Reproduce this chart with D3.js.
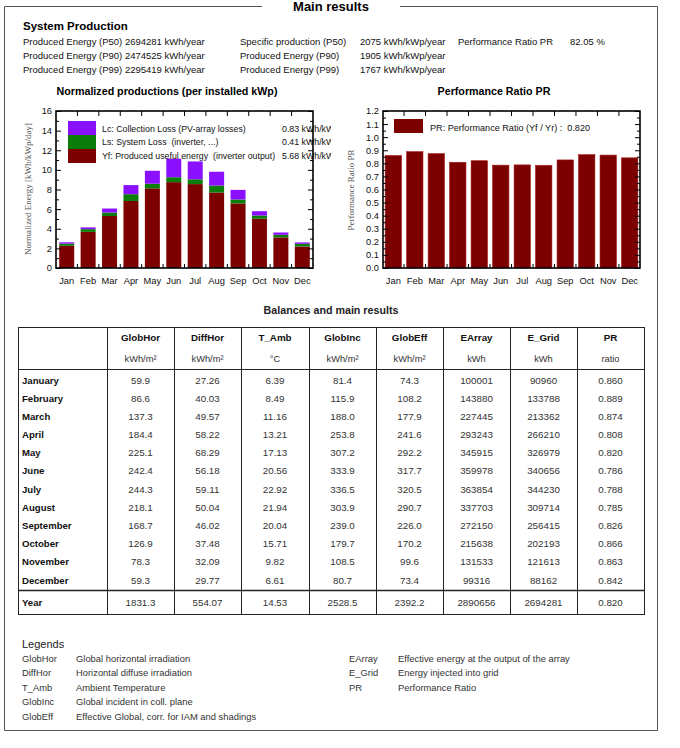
<!DOCTYPE html>
<html>
<head>
<meta charset="utf-8">
<script src="https://cdn.jsdelivr.net/npm/d3@7"></script>
<style>
  body { margin: 0; background: #fff; }
  svg { font-family: "Liberation Sans", Arial, sans-serif; }
  .val { font-size: 9.8px; fill: #333; }
  .hdr { font-size: 9.8px; font-weight: bold; fill: #111; }
  .unit { font-size: 9.3px; fill: #333; }
  .mon { font-size: 9.6px; font-weight: bold; fill: #111; }
  .info { font-size: 9.5px; fill: #111; }
</style>
</head>
<body>
<svg width="680" height="748"></svg>
<script>
// ---- data ----
var months = ["Jan","Feb","Mar","Apr","May","Jun","Jul","Aug","Sep","Oct","Nov","Dec"];
var monthNames = ["January","February","March","April","May","June","July","August","September","October","November","December"];

// normalized productions, kWh/kWp/day
var yfVals = [2.26, 3.68, 5.30, 6.83, 8.12, 8.75, 8.55, 7.70, 6.58, 5.02, 3.12, 2.19];
var lsVals = [0.22, 0.28, 0.35, 0.69, 0.47, 0.50, 0.49, 0.70, 0.40, 0.33, 0.26, 0.28];
var lcVals = [0.14, 0.18, 0.41, 0.93, 1.32, 1.89, 1.82, 1.41, 0.98, 0.44, 0.24, 0.14];

var prVals = [0.860, 0.889, 0.874, 0.808, 0.820, 0.786, 0.788, 0.785, 0.826, 0.866, 0.863, 0.842];

// table
var columns = ["GlobHor","DiffHor","T_Amb","GlobInc","GlobEff","EArray","E_Grid","PR"];
var units = ["kWh/m\u00b2","kWh/m\u00b2","\u00b0C","kWh/m\u00b2","kWh/m\u00b2","kWh","kWh","ratio"];
var decimals = [1, 2, 2, 1, 1, 0, 0, 3];
var globHor = [59.9, 86.6, 137.3, 184.4, 225.1, 242.4, 244.3, 218.1, 168.7, 126.9, 78.3, 59.3];
var diffHor = [27.26, 40.03, 49.57, 58.22, 68.29, 56.18, 59.11, 50.04, 46.02, 37.48, 32.09, 29.77];
var tAmb = [6.39, 8.49, 11.16, 13.21, 17.13, 20.56, 22.92, 21.94, 20.04, 15.71, 9.82, 6.61];
var globInc = [81.4, 115.9, 188.0, 253.8, 307.2, 333.9, 336.5, 303.9, 239.0, 179.7, 108.5, 80.7];
var globEff = [74.3, 108.2, 177.9, 241.6, 292.2, 317.7, 320.5, 290.7, 226.0, 170.2, 99.6, 73.4];
var eArray = [100001, 143880, 227445, 293243, 345915, 359978, 363854, 337703, 272150, 215638, 131533, 99316];
var eGrid = [90960, 133788, 213362, 266210, 326979, 340656, 344230, 309714, 256415, 202193, 121613, 88162];
var yearVals = [1831.3, 554.07, 14.53, 2528.5, 2392.2, 2890656, 2694281, 0.820];

var infoRows = [
  ["Produced Energy (P50) 2694281 kWh/year", "Specific production (P50)", "2075 kWh/kWp/year", "Performance Ratio PR", "82.05 %"],
  ["Produced Energy (P90) 2474525 kWh/year", "Produced Energy (P90)", "1905 kWh/kWp/year", "", ""],
  ["Produced Energy (P99) 2295419 kWh/year", "Produced Energy (P99)", "1767 kWh/kWp/year", "", ""]
];

var legendAbbr = ["GlobHor","DiffHor","T_Amb","GlobInc","GlobEff","EArray","E_Grid","PR"];
var legendText = ["Global horizontal irradiation","Horizontal diffuse irradiation","Ambient Temperature",
  "Global incident in coll. plane","Effective Global, corr. for IAM and shadings",
  "Effective energy at the output of the array","Energy injected into grid","Performance Ratio"];

var colYf = "#7d0000", colLs = "#0a7d0a", colLc = "#8a10ff";

var svg = d3.select("svg");

// ---- outer frame ----
svg.append("path")
  .attr("d", "M262,6.5 H4.5 V730.5 H657.5 V6.5 H400")
  .attr("fill", "none").attr("stroke", "#555").attr("stroke-width", 1);

svg.append("text").attr("x", 331).attr("y", 10.5).attr("text-anchor", "middle")
  .style("font-size", "13px").style("font-weight", "bold").text("Main results");

svg.append("text").attr("x", 23).attr("y", 30).style("font-size", "11.5px")
  .style("font-weight", "bold").text("System Production");

var infoX = [23, 240, 360, 458, 570];
infoRows.forEach(function(r, i) {
  r.forEach(function(t, j) {
    svg.append("text").attr("class", "info").attr("x", infoX[j]).attr("y", 44.5 + i * 14).text(t);
  });
});

// ---- left chart: normalized productions ----
var ch = {left: 56, right: 313, top: 111, bottom: 268};

var x1 = d3.scaleBand().domain(months).range([ch.left, ch.right])
  .paddingInner(0.3).paddingOuter(0.15);
var y1 = d3.scaleLinear().domain([0, 16]).range([ch.bottom, ch.top]);

svg.append("defs").append("clipPath").attr("id", "clipL")
  .append("rect").attr("x", 0).attr("y", 80).attr("width", 331).attr("height", 220);

var g1 = svg.append("g").attr("clip-path", "url(#clipL)");

svg.append("text").attr("x", 167).attr("y", 95).attr("text-anchor", "middle")
  .style("font-size", "10.7px").style("font-weight", "bold").text("Normalized productions (per installed kWp)");

var stackData = months.map(function(m, i) { return {m: m, yf: yfVals[i], ls: lsVals[i], lc: lcVals[i]}; });
var stack = d3.stack().keys(["yf", "ls", "lc"])(stackData);
var stackCols = {yf: colYf, ls: colLs, lc: colLc};

g1.selectAll("g.layer").data(stack).enter().append("g").attr("class", "layer")
  .attr("fill", function(d) { return stackCols[d.key]; })
  .selectAll("rect").data(function(d) { return d; }).enter().append("rect")
  .attr("x", function(d) { return x1(d.data.m); })
  .attr("width", x1.bandwidth())
  .attr("y", function(d) { return y1(d[1]); })
  .attr("height", function(d) { return y1(d[0]) - y1(d[1]); });

// legend
var legL = [
  {c: colLc, t: "Lc: Collection Loss (PV-array losses)", v: "0.83 kWh/kWp/day"},
  {c: colLs, t: "Ls: System Loss  (inverter, ...)", v: "0.41 kWh/kWp/day"},
  {c: colYf, t: "Yf: Produced useful energy  (inverter output)", v: "5.68 kWh/kWp/day"}
];
legL.forEach(function(d, i) {
  g1.append("rect").attr("x", 68).attr("y", 121 + i * 14).attr("width", 28).attr("height", 14).attr("fill", d.c);
  g1.append("text").attr("x", 102).attr("y", 131.5 + i * 13.5).style("font-size", "8.8px").attr("fill", "#111")
    .style("white-space", "pre").text(d.t);
  g1.append("text").attr("x", 282).attr("y", 131.5 + i * 13.5).style("font-size", "8.8px").attr("fill", "#111").text(d.v);
});

function frameAxes(g, x, y, c, majorTicks, minorTicks, fmt) {
  g.append("g").attr("transform", "translate(" + c.left + ",0)")
    .call(d3.axisLeft(y).tickValues(majorTicks).tickSize(-5).tickPadding(4).tickFormat(fmt))
    .call(function(a) { a.select(".domain").remove(); a.selectAll("text").style("font-size", "9.3px").attr("fill", "#111"); });
  g.append("g").attr("transform", "translate(" + c.left + ",0)")
    .call(d3.axisLeft(y).tickValues(minorTicks).tickSize(-3).tickFormat(""))
    .call(function(a) { a.select(".domain").remove(); });
  g.append("g").attr("transform", "translate(" + c.right + ",0)")
    .call(d3.axisRight(y).tickValues(majorTicks).tickSize(-5).tickFormat(""))
    .call(function(a) { a.select(".domain").remove(); });
  g.append("g").attr("transform", "translate(" + c.right + ",0)")
    .call(d3.axisRight(y).tickValues(minorTicks).tickSize(-3).tickFormat(""))
    .call(function(a) { a.select(".domain").remove(); });
  g.append("g").attr("transform", "translate(0," + c.bottom + ")")
    .call(d3.axisBottom(x).tickSize(0).tickPadding(9))
    .call(function(a) { a.select(".domain").remove(); a.selectAll("text").style("font-size", "9.3px").attr("fill", "#111"); });
  // separators between months on top and bottom
  var seps = months.slice(1).map(function(m) { return x(m) - x.step() * x.paddingInner() / 2; });
  g.selectAll("line.sepT").data(seps).enter().append("line")
    .attr("x1", function(d) { return d; }).attr("x2", function(d) { return d; })
    .attr("y1", c.top).attr("y2", c.top + 5).attr("stroke", "#000");
  g.selectAll("line.sepB").data(seps).enter().append("line")
    .attr("x1", function(d) { return d; }).attr("x2", function(d) { return d; })
    .attr("y1", c.bottom).attr("y2", c.bottom - 4).attr("stroke", "#000");
  g.append("rect").attr("x", c.left).attr("y", c.top).attr("width", c.right - c.left)
    .attr("height", c.bottom - c.top).attr("fill", "none").attr("stroke", "#000").attr("stroke-width", 1.6);
}

frameAxes(svg.append("g"), x1, y1, ch, d3.range(0, 17, 2), d3.range(1, 16, 2), d3.format("d"));

svg.append("text").attr("transform", "translate(31,189) rotate(-90)").attr("text-anchor", "middle")
  .style("font-family", "'Liberation Serif', 'Times New Roman', serif").style("font-size", "9px")
  .attr("fill", "#555").text("Normalized Energy [kWh/kWp/day]");

// ---- right chart: performance ratio ----
var cr = {left: 383, right: 640, top: 111, bottom: 268};
var x2 = d3.scaleBand().domain(months).range([cr.left, cr.right])
  .paddingInner(0.24).paddingOuter(0.1);
var y2 = d3.scaleLinear().domain([0, 1.2]).range([cr.bottom, cr.top]);

svg.append("text").attr("x", 494).attr("y", 95).attr("text-anchor", "middle")
  .style("font-size", "10.7px").style("font-weight", "bold").text("Performance Ratio PR");

svg.append("g").selectAll("rect").data(prVals).enter().append("rect")
  .attr("x", function(d, i) { return x2(months[i]); })
  .attr("width", x2.bandwidth())
  .attr("y", function(d) { return y2(d); })
  .attr("height", function(d) { return y2(0) - y2(d); })
  .attr("fill", colYf).attr("stroke", "#a51515").attr("stroke-width", 0.6);

svg.append("rect").attr("x", 394).attr("y", 119).attr("width", 29).attr("height", 14).attr("fill", colYf);
svg.append("text").attr("x", 430).attr("y", 131).style("font-size", "9.1px").attr("fill", "#111")
  .style("white-space", "pre").text("PR: Performance Ratio (Yf / Yr) :  0.820");

var prMajor = d3.range(0, 13).map(function(i) { return i / 10; });
var prMinor = d3.range(0, 12).map(function(i) { return i / 10 + 0.05; });
frameAxes(svg.append("g"), x2, y2, cr, prMajor, prMinor, d3.format(".1f"));

svg.append("text").attr("transform", "translate(354,190) rotate(-90)").attr("text-anchor", "middle")
  .style("font-family", "'Liberation Serif', 'Times New Roman', serif").style("font-size", "9px")
  .attr("fill", "#555").text("Performance Ratio PR");

// ---- table ----
svg.append("text").attr("x", 331).attr("y", 314).attr("text-anchor", "middle")
  .style("font-size", "10.7px").style("font-weight", "bold").attr("fill", "#222").text("Balances and main results");

var tb = {left: 18, right: 644, top: 327, bottom: 614, hdr: 369, yearLine: 590};
var colEdges = [18, 107, 174, 241, 309, 376, 443, 510, 577, 644];
var colCenter = function(j) { return (colEdges[j + 1] + colEdges[j + 2]) / 2; };
var rowY = d3.scaleLinear().domain([0, 11]).range([380, 580]);

var tg = svg.append("g");
tg.append("rect").attr("x", tb.left + 0.5).attr("y", tb.top + 0.5).attr("width", tb.right - tb.left)
  .attr("height", tb.bottom - tb.top).attr("fill", "none").attr("stroke", "#222");
colEdges.slice(1, -1).forEach(function(e) {
  tg.append("line").attr("x1", e + 0.5).attr("x2", e + 0.5).attr("y1", tb.top).attr("y2", tb.bottom).attr("stroke", "#222");
});
[tb.hdr, tb.yearLine].forEach(function(yy) {
  tg.append("line").attr("x1", tb.left).attr("x2", tb.right).attr("y1", yy + 0.5).attr("y2", yy + 0.5)
    .attr("stroke", "#222").attr("stroke-width", yy === tb.yearLine ? 1.3 : 1);
});

columns.forEach(function(c, j) {
  tg.append("text").attr("class", "hdr").attr("x", colCenter(j)).attr("y", 340.5).attr("text-anchor", "middle").text(c);
  tg.append("text").attr("class", "unit").attr("x", colCenter(j)).attr("y", 361.5).attr("text-anchor", "middle").text(units[j]);
});

var tableCols = [globHor, diffHor, tAmb, globInc, globEff, eArray, eGrid, prVals];
monthNames.forEach(function(mn, i) {
  tg.append("text").attr("class", "mon").attr("x", 22).attr("y", rowY(i) + 3.5).text(mn);
  tableCols.forEach(function(col, j) {
    tg.append("text").attr("class", "val").attr("x", colCenter(j)).attr("y", rowY(i) + 3.5)
      .attr("text-anchor", "middle").text(d3.format("." + decimals[j] + "f")(col[i]));
  });
});
tg.append("text").attr("class", "mon").attr("x", 22).attr("y", 605.5).text("Year");
yearVals.forEach(function(v, j) {
  tg.append("text").attr("class", "val").attr("x", colCenter(j)).attr("y", 605.5)
    .attr("text-anchor", "middle").text(d3.format("." + decimals[j] + "f")(v));
});

// ---- legends ----
svg.append("text").attr("x", 22).attr("y", 648).style("font-size", "11px").attr("fill", "#222").text("Legends");
legendAbbr.forEach(function(a, i) {
  var left = i < 5;
  var row = left ? i : i - 5;
  var yy = 661.5 + row * 14.5;
  svg.append("text").attr("x", left ? 22 : 349).attr("y", yy).style("font-size", "9.4px").attr("fill", "#333").text(a);
  svg.append("text").attr("x", left ? 76 : 398).attr("y", yy).style("font-size", "9.4px").attr("fill", "#333").text(legendText[i]);
});
</script>
</body>
</html>
